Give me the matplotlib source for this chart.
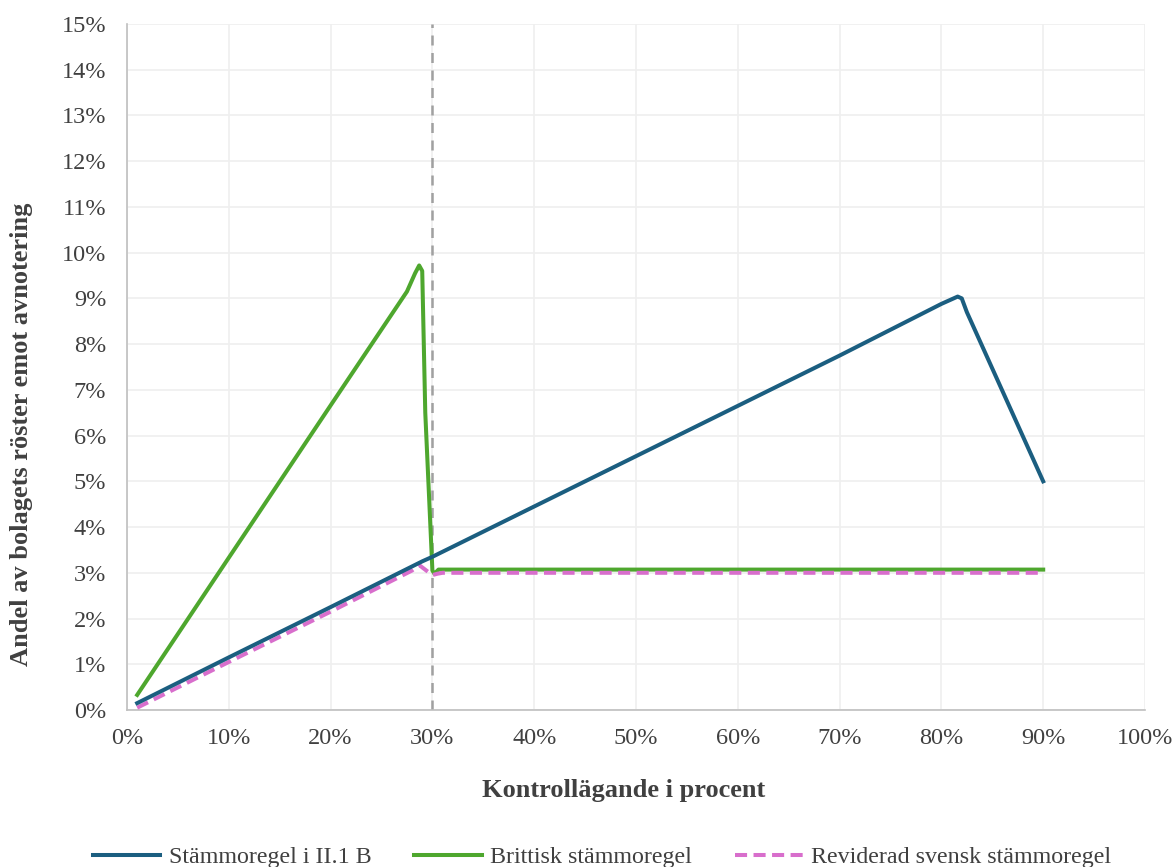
import matplotlib
matplotlib.use("Agg")
import matplotlib.pyplot as plt
from matplotlib.ticker import FuncFormatter, MultipleLocator

plt.rcParams['font.family'] = ['Liberation Serif', 'DejaVu Serif']

# Data (percent)
x_blue = [1, 10, 20, 29, 30, 40, 50, 60, 70, 80, 81, 81.6, 82, 82.5, 90]
y_blue = [0.15, 1.15, 2.25, 3.25, 3.35, 4.45, 5.55, 6.65, 7.75, 8.88, 8.98, 9.04, 9.0, 8.7, 5.0]

x_green = [1, 10, 20, 27.5, 28.3, 28.7, 29.0, 29.3, 30.0, 30.2, 30.6, 40, 50, 60, 70, 80, 90]
y_green = [0.33, 3.33, 6.66, 9.15, 9.55, 9.72, 9.6, 6.5, 3.05, 2.98, 3.07, 3.07, 3.07, 3.07, 3.07, 3.07, 3.07]

x_pink = [1, 10, 20, 28, 28.7, 29.4, 30.0, 30.5, 31, 40, 50, 60, 70, 80, 90]
y_pink = [0.05, 1.05, 2.15, 3.05, 3.17, 3.05, 2.95, 2.98, 3.0, 3.0, 3.0, 3.0, 3.0, 3.0, 3.0]

labels = ["Stämmoregel i II.1 B", "Brittisk stämmoregel", "Reviderad svensk stämmoregel"]
colors = ["#1B5E80", "#4EA72E", "#D86ECC"]
txt = "#404040"

W, H = 1174, 867
fig = plt.figure(figsize=(W / 100, H / 100), dpi=100)
ax = fig.add_axes([127 / W, 1 - 710 / H, (1145 - 127) / W, (710 - 24) / H])

ax.axvline(30, color="#A0A0A0", lw=1.8, ls=(0, (4, 3)), zorder=2)
l1, = ax.plot(x_blue, y_blue, color=colors[0], lw=2.9, label=labels[0], zorder=4, solid_joinstyle='round')
l2, = ax.plot(x_green, y_green, color=colors[1], lw=2.9, label=labels[1], zorder=3, solid_joinstyle='round')
l3, = ax.plot(x_pink, y_pink, color=colors[2], lw=2.9, ls=(0, (3, 1.6)), label=labels[2], zorder=3)

ax.set_xlim(0, 100)
ax.set_ylim(0, 15)
ax.xaxis.set_major_locator(MultipleLocator(10))
ax.yaxis.set_major_locator(MultipleLocator(1))
fmt = FuncFormatter(lambda v, p: f"{int(round(v))}%")
ax.xaxis.set_major_formatter(fmt)
ax.yaxis.set_major_formatter(fmt)
ax.grid(True, color="#EFEFEF", lw=1.2, zorder=0)
ax.set_axisbelow(True)
for s in ["top", "right"]:
    ax.spines[s].set_visible(False)
for s in ["left", "bottom"]:
    ax.spines[s].set_color("#BFBFBF")
    ax.spines[s].set_linewidth(1.2)
ax.tick_params(length=0, labelsize=17.5, colors=txt)
ax.tick_params(axis="y", pad=15)
ax.tick_params(axis="x", pad=13)

fig.text(624 / W, 1 - 791 / H, "Kontrollägande i procent", fontsize=19, fontweight="bold",
         color=txt, ha="center", va="center")
fig.text(22 / W, 1 - 434 / H, "Andel av bolagets röster emot avnotering", fontsize=19,
         fontweight="bold", color=txt, ha="center", va="center", rotation=90)

fig.legend(handles=[l1, l2, l3], labels=labels, loc="center", bbox_to_anchor=(602 / W, 1 - 857 / H),
           ncol=3, frameon=False, fontsize=17.3, handlelength=2.8, columnspacing=1.8,
           labelcolor=txt, handletextpad=0.35, borderpad=0)

fig.savefig("out.png", dpi=100)
